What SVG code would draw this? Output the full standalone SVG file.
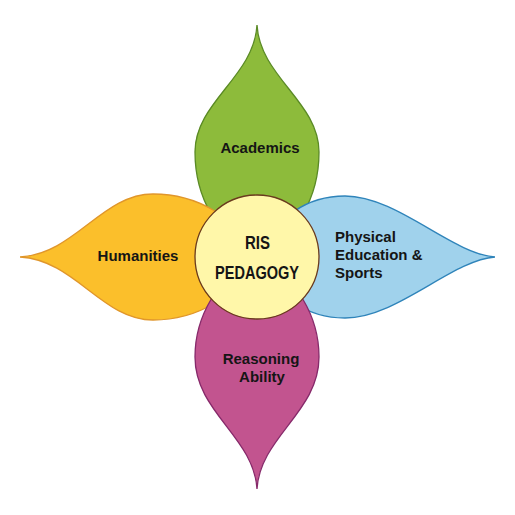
<svg xmlns="http://www.w3.org/2000/svg" width="515" height="515" viewBox="0 0 515 515">
<style>
.lbl{font-family:"Liberation Sans",Arial,sans-serif;font-weight:bold;font-size:15px;fill:#151515}
.ctr{font-family:"Liberation Sans",Arial,sans-serif;font-weight:bold;font-size:18px;fill:#151515}
.p{stroke-width:1.3}
</style>
<rect width="515" height="515" fill="#ffffff"/>
<g id="connectors"></g>
<g id="academics">
<path class="p" transform="translate(257,257)" d="M0,-232 C3,-180 62,-155 62,-105 C62,-60 40,-20 0,0 C-40,-20 -62,-60 -62,-105 C-62,-155 -3,-180 0,-232 Z" fill="#8DBB3B" stroke="#5A8A25"/>
<text class="lbl" x="260" y="153" text-anchor="middle">Academics</text>
</g>
<g id="humanities">
<path class="p" transform="translate(257,257) rotate(-90)" d="M0,-237 C3,-182 63,-155 63,-104 C63,-60 40,-20 0,0 C-40,-20 -63,-60 -63,-104 C-63,-155 -3,-182 0,-237 Z" fill="#FBBF2B" stroke="#E0962B"/>
<text class="lbl" x="138" y="261" text-anchor="middle">Humanities</text>
</g>
<g id="physical">
<path class="p" transform="translate(257,257) rotate(90)" d="M0,-238 C3,-195 61,-140 61,-88 C61,-50 40,-20 0,0 C-40,-20 -61,-50 -61,-88 C-61,-140 -3,-195 0,-238 Z" fill="#A0D2EC" stroke="#2F84BA"/>
<text class="lbl" x="335" y="242">Physical</text>
<text class="lbl" x="335" y="260">Education &amp;</text>
<text class="lbl" x="335" y="278">Sports</text>
</g>
<g id="reasoning">
<path class="p" transform="translate(257,257) rotate(180)" d="M0,-232 C3,-180 62,-155 62,-100 C62,-60 40,-20 0,0 C-40,-20 -62,-60 -62,-100 C-62,-155 -3,-180 0,-232 Z" fill="#C2548F" stroke="#86296A"/>
<text class="lbl" x="261" y="364" text-anchor="middle">Reasoning</text>
<text class="lbl" x="262" y="382" text-anchor="middle">Ability</text>
</g>
<g id="center">
<circle cx="257" cy="257" r="62" fill="#FFF7A9" stroke="#6A3A1E" stroke-width="1.3"/>
<text class="ctr" x="257.5" y="249" text-anchor="middle" textLength="25" lengthAdjust="spacingAndGlyphs">RIS</text>
<text class="ctr" x="257" y="279" text-anchor="middle" textLength="84" lengthAdjust="spacingAndGlyphs">PEDAGOGY</text>
</g>
</svg>
